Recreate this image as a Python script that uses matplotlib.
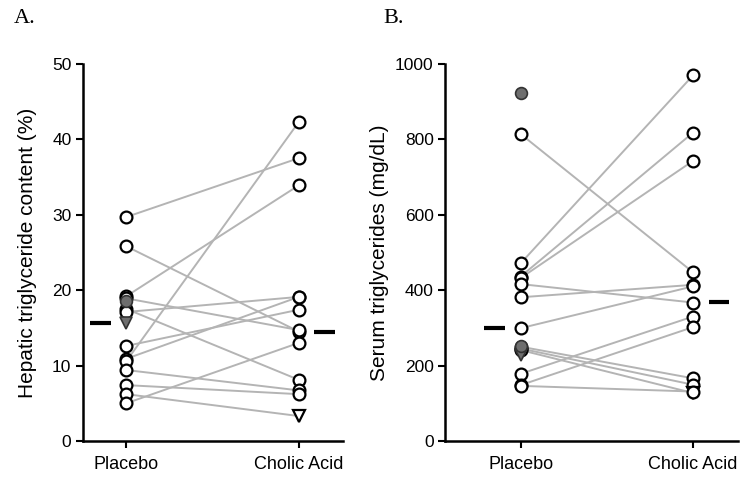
import matplotlib
matplotlib.use('Agg')
import matplotlib.pyplot as plt

plt.rcParams['font.family'] = ['Liberation Sans', 'DejaVu Sans']

# groups on the x axis
groups = ['Placebo', 'Cholic Acid']

# panel A: hepatic triglyceride content (%), paired placebo -> cholic acid
a_pla = [29.7, 25.8, 19.2, 18.9, 17.5, 17.1, 12.6, 10.9, 10.6, 9.4, 7.4, 6.2, 5.0]
a_cho = [37.5, 14.5, 33.9, 14.7, 8.1, 19.1, 17.4, 19.1, 42.3, 6.7, 6.2, 3.3, 13.0]
a_cho_mark = ['o', 'o', 'o', 'o', 'o', 'o', 'o', 'o', 'o', 'o', 'o', 'v', 'o']
a_pla_gray = [18.6]
a_pla_tri = [15.6]
a_means = [15.6, 14.5]

# panel B: serum triglycerides (mg/dL)
b_pla = [814, 471, 436, 432, 416, 381, 299, 250, 245, 241, 178, 148, 146]
b_cho = [447, 970, 818, 743, 367, 414, 410, 166, 149, 127, 330, 302, 131]
b_cho_mark = ['o', 'o', 'o', 'o', 'o', 'o', 'o', 'o', 'o', 'v', 'o', 'o', 'o']
b_pla_gray = [924, 253]
b_pla_tri = [228]
b_means = [299, 368]

LINE = '#b4b4b4'
GRAY = '#6e6e6e'


def panel(ax, pla, cho, cho_mark, gray, tri, means, ylim, yticks, ylabel, xlim, pad):
    for p, c in zip(pla, cho):
        ax.plot([0, 1], [p, c], color=LINE, lw=1.4, zorder=1)
    ax.plot([0] * len(pla), pla, 'o', ms=8.5, mfc='white', mec='black', mew=1.6,
            zorder=3, clip_on=False)
    for c, m in zip(cho, cho_mark):
        ax.plot(1, c, m, ms=8.5, mfc='white', mec='black', mew=1.6, zorder=3)
    ax.plot([0] * len(tri), tri, 'v', ms=8, mfc=GRAY, mec='#333333', mew=1.2, zorder=4)
    ax.plot([0] * len(gray), gray, 'o', ms=8.5, mfc=GRAY, mec='#333333', mew=1.2, zorder=5)
    ax.hlines(means[0], -0.21, -0.09, color='black', lw=3)
    ax.hlines(means[1], 1.09, 1.21, color='black', lw=3)

    ax.set_xlim(*xlim)
    ax.set_ylim(*ylim)
    ax.set_yticks(yticks)
    ax.set_xticks([0, 1])
    ax.set_xticklabels(groups, fontsize=13)
    ax.tick_params(axis='y', labelsize=12.5, direction='out', length=5, width=1.5, pad=3)
    ax.tick_params(axis='x', direction='out', length=5, width=1.5, pad=6)
    ax.set_ylabel(ylabel, fontsize=15, labelpad=pad)
    ax.spines['top'].set_visible(False)
    ax.spines['right'].set_visible(False)
    ax.spines['left'].set_linewidth(1.8)
    ax.spines['bottom'].set_linewidth(1.8)


fig = plt.figure(figsize=(7.5, 4.84), dpi=100)
axA = fig.add_axes([0.110, 0.089, 0.347, 0.779])
axB = fig.add_axes([0.593, 0.089, 0.391, 0.779])

panel(axA, a_pla, a_cho, a_cho_mark, a_pla_gray, a_pla_tri, a_means,
      (0, 50), [0, 10, 20, 30, 40, 50], 'Hepatic triglyceride content (%)', (-0.255, 1.255), 11)
panel(axB, b_pla, b_cho, b_cho_mark, b_pla_gray, b_pla_tri, b_means,
      (0, 1000), [0, 200, 400, 600, 800, 1000], 'Serum triglycerides (mg/dL)', (-0.44, 1.26), 4)

fig.text(0.018, 0.962, 'A.', family='Liberation Serif', fontsize=16, va='center')
fig.text(0.511, 0.962, 'B.', family='Liberation Serif', fontsize=16, va='center')

fig.savefig('out.png', dpi=100)
